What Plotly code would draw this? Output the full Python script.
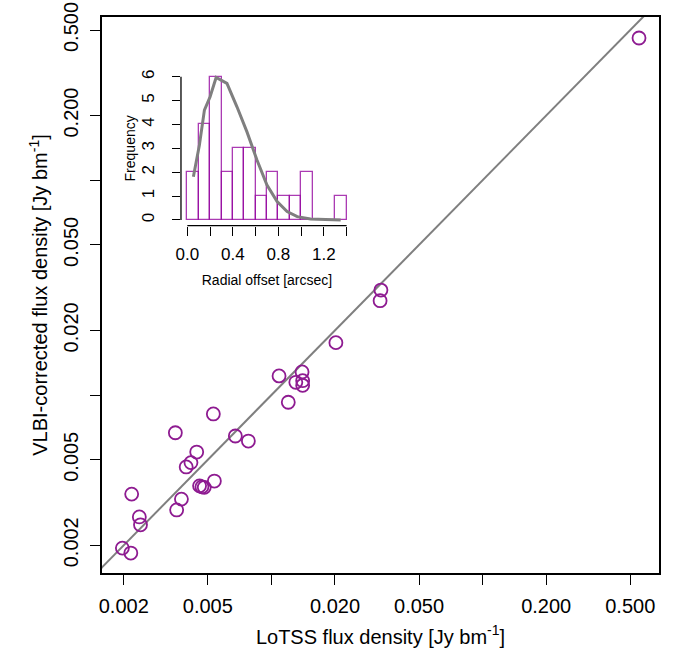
import plotly.graph_objects as go

# Main scatter data: LoTSS flux density (x) vs VLBI-corrected flux density (y) [Jy/beam]
lotss_flux = [0.550, 0.0330, 0.0327, 0.0202, 0.01087, 0.01397, 0.01305, 0.01406, 0.01406,
              0.01202, 0.00531, 0.00351, 0.00675, 0.00778, 0.00443, 0.00416, 0.00395,
              0.00457, 0.00469, 0.00481, 0.00537, 0.00375, 0.00356, 0.00218, 0.00237,
              0.00240, 0.00197, 0.00216]
vlbi_flux = [0.459, 0.0308, 0.0275, 0.01754, 0.01228, 0.01281, 0.01147, 0.01167, 0.01110,
             0.00926, 0.00817, 0.00668, 0.00645, 0.00611, 0.00543, 0.00485, 0.00463,
             0.00378, 0.00374, 0.00372, 0.00398, 0.00328, 0.00292, 0.00346, 0.00271,
             0.00249, 0.00194, 0.00184]

main_tickvals = [0.002, 0.005, 0.01, 0.02, 0.05, 0.1, 0.2, 0.5]
main_ticktext = ["0.002", "0.005", "", "0.020", "0.050", "", "0.200", "0.500"]

# Inset histogram of radial offsets
bin_centers = [0.05, 0.15, 0.25, 0.35, 0.45, 0.55, 0.65, 0.75, 0.85, 0.95, 1.05, 1.15, 1.25, 1.35]
bin_counts = [2, 4, 6, 2, 3, 3, 1, 2, 1, 1, 2, 0, 0, 1]
curve_x = [0.053, 0.106, 0.150, 0.200, 0.253, 0.348, 0.436, 0.524, 0.612, 0.700, 0.789,
           0.877, 0.966, 1.083, 1.348]
curve_y = [1.81, 3.14, 4.60, 5.16, 5.97, 5.72, 4.74, 3.69, 2.51, 1.46, 0.77, 0.35, 0.14,
           0.04, 0.0]
inset_xticks = [0.0, 0.2, 0.4, 0.6, 0.8, 1.0, 1.2, 1.4]
inset_xtext = ["0.0", "", "0.4", "", "0.8", "", "1.2", ""]
inset_yticks = [0, 1, 2, 3, 4, 5, 6]

FONT = "Liberation Sans, Arial, sans-serif"
PURPLE = "#8E1B91"
GREY = "#7F7F7F"

fig = go.Figure()

# 1:1 line across the whole axis range
fig.add_trace(go.Scatter(x=[1e-3, 1.0], y=[1e-3, 1.0], mode="lines",
                         line=dict(color=GREY, width=2), hoverinfo="skip",
                         showlegend=False))
fig.add_trace(go.Scatter(x=lotss_flux, y=vlbi_flux, mode="markers",
                         marker=dict(symbol="circle-open", size=13, color=PURPLE,
                                     line=dict(width=1.8, color=PURPLE)),
                         showlegend=False))

# Inset
fig.add_trace(go.Bar(x=bin_centers, y=bin_counts, width=0.1, xaxis="x2", yaxis="y2",
                     marker=dict(color="rgba(255,255,255,0)",
                                 line=dict(color="rgba(150,10,160,0.8)", width=1.3)),
                     showlegend=False))
fig.add_trace(go.Scatter(x=curve_x, y=curve_y, mode="lines", xaxis="x2", yaxis="y2",
                         line=dict(color=GREY, width=3), showlegend=False))

fig.update_layout(
    width=676, height=655,
    margin=dict(l=102, r=17, t=17, b=82, autoexpand=False),
    paper_bgcolor="white", plot_bgcolor="white",
    font=dict(family=FONT, color="black", size=20),
    bargap=0,
    xaxis=dict(type="log", range=[-2.802, -0.165], tickvals=main_tickvals,
               ticktext=main_ticktext, ticks="outside", ticklen=10, tickwidth=1.3,
               tickcolor="black", showline=True, mirror=True, linecolor="black",
               linewidth=1.5, showgrid=False, zeroline=False, automargin=False,
               tickfont=dict(size=20), ticklabelstandoff=4,
               ticklabeloverflow="allow",
               title=dict(text="LoTSS flux density [Jy bm<sup>-1</sup>]",
                          font=dict(size=20), standoff=14)),
    yaxis=dict(type="log", range=[-2.828, -0.2405], tickvals=main_tickvals,
               ticktext=main_ticktext, ticks="outside", ticklen=10, tickwidth=1.3,
               tickcolor="black", showline=True, mirror=True, linecolor="black",
               linewidth=1.5, showgrid=False, zeroline=False, tickangle=-90,
               automargin=False, tickfont=dict(size=20), ticklabelstandoff=4,
               ticklabeloverflow="allow",
               title=dict(text="VLBI-corrected flux density [Jy bm<sup>-1</sup>]",
                          font=dict(size=20), standoff=7)),
    xaxis2=dict(domain=[0.1418, 0.4506], anchor="y2", range=[-0.056, 1.456],
                tickvals=inset_xticks, ticktext=inset_xtext, ticks="outside",
                ticklen=9, tickwidth=1.3, tickcolor="black", showline=False,
                showgrid=False, zeroline=False, tickfont=dict(size=17),
                automargin=False, ticklabelstandoff=4,
                title=dict(text="Radial offset [arcsec]", font=dict(size=14),
                           standoff=12)),
    yaxis2=dict(domain=[0.6246, 0.9029], anchor="x2", range=[-0.24, 6.24],
                tickvals=inset_yticks, ticks="outside", ticklen=8, tickwidth=1.3,
                tickcolor="black", showline=False, showgrid=False, zeroline=False,
                tickangle=-90, tickfont=dict(size=17), automargin=False,
                ticklabelstandoff=11,
                title=dict(text="Frequency", font=dict(size=14), standoff=0)),
    shapes=[
        dict(type="line", xref="x2 domain", yref="y2", x0=0, x1=0, y0=0, y1=6,
             line=dict(color="black", width=1.3)),
        dict(type="line", xref="x2", yref="y2 domain", x0=0, x1=1.4, y0=0, y1=0,
             line=dict(color="black", width=1.3)),
    ],
)

# Remove the default page margin so the figure fills the window exactly.
fig.write_html("out.html", config={"displayModeBar": False},
               post_script="document.body.style.margin='0';")
